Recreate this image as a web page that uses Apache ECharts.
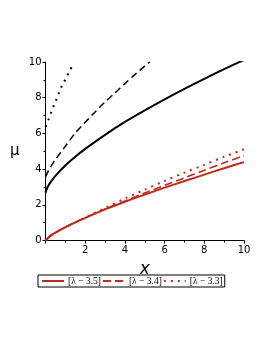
<!DOCTYPE html>
<html>
<head>
<meta charset="utf-8">
<script src="https://cdn.jsdelivr.net/npm/echarts@6/dist/echarts.min.js"></script>
<style>html,body{margin:0;padding:0;background:#fff}#c{width:270px;height:349px}</style>
</head>
<body>
<div id="c"></div>
<script>
// Red curves (legend series)
const redX = [0, 0.25, 0.5, 1, 1.5, 2, 3, 4, 5, 6, 7, 8, 9, 10];
const red35 = [0, 0.26, 0.44, 0.745, 1.02, 1.27, 1.74, 2.17, 2.57, 2.96, 3.33, 3.69, 4.05, 4.39];
const red34 = [0, 0.26, 0.44, 0.745, 1.02, 1.27, 1.76, 2.22, 2.66, 3.09, 3.51, 3.93, 4.35, 4.76];
const red33 = [0, 0.26, 0.44, 0.745, 1.02, 1.27, 1.82, 2.35, 2.85, 3.34, 3.80, 4.24, 4.69, 5.11];
// Black curves (other branch)
const blkSolidX = [0, 0.1, 0.25, 0.5, 1, 1.5, 2, 3, 4, 5, 6, 7, 8, 9, 10];
const blkSolidY = [2.68, 2.98, 3.26, 3.62, 4.2, 4.69, 5.13, 5.92, 6.64, 7.29, 7.91, 8.5, 9.06, 9.6, 10.12];
const blkDashX = [0, 0.1, 0.25, 0.5, 1, 1.5, 2, 2.5, 3, 3.5, 4, 4.5, 5, 5.25];
const blkDashY = [3.56, 3.8, 4.1, 4.53, 5.28, 6.02, 6.62, 7.2, 7.76, 8.27, 8.79, 9.29, 9.77, 10.0];
const blkDotX = [0, 0.14, 0.28, 0.41, 0.55, 0.68, 0.83, 1.0, 1.17, 1.35];
const blkDotY = [6.37, 6.75, 7.16, 7.53, 7.91, 8.28, 8.67, 9.03, 9.4, 9.78];
const xTicks = [0, 2, 4, 6, 8, 10];
const yTicks = [0, 2, 4, 6, 8, 10];
const legendNames = ['[λ − 3.5]', '[λ − 3.4]', '[λ − 3.3]'];

const RED = '#c0281c';
const pairs = (xs, ys) => xs.map((x, i) => [x, ys[i]]);

const chart = echarts.init(document.getElementById('c'), null, {renderer: 'canvas'});
const axisCommon = {
  type: 'value', min: 0, max: 10, interval: 2,
  axisLine: {show: true, onZero: false, lineStyle: {color: '#000', width: 1}},
  axisTick: {show: true, length: 3, lineStyle: {color: '#000'}},
  minorTick: {show: true, splitNumber: 2, length: 2, lineStyle: {color: '#000'}},
  splitLine: {show: false},
  axisLabel: {color: '#000', fontSize: 10, fontFamily: 'DejaVu Sans', margin: 4}
};
chart.setOption({
  animation: false,
  grid: {left: 45.5, right: 26, top: 62, bottom: 108.5},
  xAxis: Object.assign({}, axisCommon, {
    name: 'x', nameLocation: 'middle', nameGap: 21,
    nameTextStyle: {fontSize: 17, fontStyle: 'italic', fontFamily: 'DejaVu Sans', color: '#000'},
    axisLabel: Object.assign({}, axisCommon.axisLabel, {margin: 5, formatter: v => xTicks.includes(v) && v !== 0 ? String(v) : ''})
  }),
  yAxis: Object.assign({}, axisCommon, {
    name: 'μ', nameLocation: 'middle', nameGap: 26, nameRotate: 0,
    nameTextStyle: {fontSize: 15, fontFamily: 'DejaVu Sans', color: '#000'},
    axisLabel: Object.assign({}, axisCommon.axisLabel, {formatter: v => yTicks.includes(v) ? String(v) : ''})
  }),
  legend: {
    data: legendNames,
    left: 38, top: 275,
    orient: 'horizontal',
    itemWidth: 22, itemHeight: 10, itemGap: 1,
    padding: [1, 2, 1, 3],
    borderColor: '#000', borderWidth: 1,
    itemStyle: {color: 'rgba(0,0,0,0)', borderColor: 'rgba(0,0,0,0)', borderWidth: 0, opacity: 0},
    textStyle: {fontSize: 9.5, fontFamily: 'Liberation Serif', color: '#000', padding: [0, 0, 0, -1]},
    selectedMode: false
  },
  series: [
    {name: legendNames[0], type: 'line', data: pairs(redX, red35), showSymbol: false, symbol: 'none', smooth: 0.3,
     lineStyle: {color: RED, width: 2}, itemStyle: {color: RED}},
    {name: legendNames[1], type: 'line', data: pairs(redX, red34), showSymbol: false, symbol: 'none', smooth: 0.3,
     lineStyle: {color: RED, width: 1.6, type: [8, 4]}, itemStyle: {color: RED}},
    {name: legendNames[2], type: 'line', data: pairs(redX, red33), showSymbol: false, symbol: 'none', smooth: 0.3,
     lineStyle: {color: RED, width: 2, type: [2, 5]}, itemStyle: {color: RED}},
    {name: 'b1', type: 'line', data: pairs(blkSolidX, blkSolidY), showSymbol: false, symbol: 'none', smooth: 0.3,
     lineStyle: {color: '#000', width: 2}},
    {name: 'b2', type: 'line', data: pairs(blkDashX, blkDashY), showSymbol: false, symbol: 'none', smooth: 0.3,
     lineStyle: {color: '#000', width: 1.5, type: [7, 4]}},
    {name: 'b3', type: 'line', data: pairs(blkDotX, blkDotY), showSymbol: false, symbol: 'none', smooth: 0.3,
     lineStyle: {color: '#000', width: 2, type: [2, 5]}}
  ]
});
</script>
</body>
</html>
